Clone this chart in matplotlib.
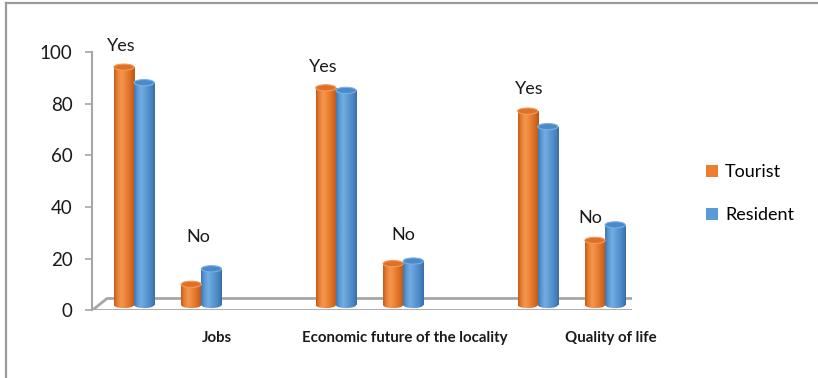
import numpy as np
import matplotlib
matplotlib.use("Agg")
import matplotlib.pyplot as plt
from matplotlib.colors import LinearSegmentedColormap
from matplotlib.patches import Ellipse, Patch, Polygon
from matplotlib.lines import Line2D
from matplotlib.transforms import offset_copy

plt.rcParams['font.family'] = ['Lato', 'DejaVu Sans']

# survey answers (%), one Yes/No pair per aspect
categories = ['Jobs', 'Economic future of the locality', 'Quality of life']
answers = ['Yes', 'No', 'Yes', 'No', 'Yes', 'No']
tourist = [92, 8, 84, 16, 75, 25]
resident = [86, 14, 83, 17, 69, 31]
series = ['Tourist', 'Resident']
yticks = [0, 20, 40, 60, 80, 100]

# slot of each Yes/No pair along the x axis (gap between aspects)
slots = np.array([0, 1, 3, 4, 6, 7])

fig = plt.figure(figsize=(8.18, 3.78), dpi=100)
ax = fig.add_axes([0.1125, 0.1786, 0.6601, 0.6839])
ax.set_xlim(-0.624, 7.40)
ax.set_ylim(0, 100)

grey = '#a6a6a6'
# pseudo-3D depth: bars sit half way back on the floor
bar_tr = offset_copy(ax.transData, fig=fig, x=0, y=5.5, units='dots')
back_tr = offset_copy(ax.transData, fig=fig, x=15, y=12, units='dots')

# floor slab
x0, x1 = ax.get_xlim()
p_front = ax.transData.transform([(x0, 0), (x1, 0)])
p_back = back_tr.transform([(x1, 0), (x0, 0)])
floor = Polygon(np.vstack([p_front, p_back]), closed=True, transform=None,
                facecolor='white', edgecolor=grey, lw=2.0, zorder=1)
ax.add_artist(floor)

orange_cm = LinearSegmentedColormap.from_list(
    'o', ['#c45b19', '#e97e34', '#f39650', '#ef8a40', '#e4782c', '#d26821', '#b95518'])
blue_cm = LinearSegmentedColormap.from_list(
    'b', ['#3d76b2', '#5c98d3', '#74ade3', '#64a1da', '#5592cd', '#4884c1', '#3a6ca3'])
caps = {'Tourist': ('#e07026', '#f39a58'), 'Resident': ('#4b8aca', '#79b0e3')}

w = 0.3
cap_h = 2.4
grad = np.linspace(0, 1, 256).reshape(1, -1)

for vals, name, cmap, dx in [(tourist, 'Tourist', orange_cm, -w / 2),
                             (resident, 'Resident', blue_cm, w / 2)]:
    bars = ax.bar(slots + dx, vals, width=w, transform=bar_tr,
                  facecolor='none', edgecolor='none', zorder=3)
    for bar, v in zip(bars, vals):
        xc = bar.get_x() + w / 2
        body = ax.imshow(grad, extent=(xc - w / 2, xc + w / 2, 0, v),
                         transform=bar_tr, aspect='auto', cmap=cmap, zorder=3)
        body.set_clip_path(bar)
        foot = Ellipse((xc, 0), w, cap_h, transform=bar_tr,
                       facecolor='none', edgecolor='none', zorder=3)
        ax.add_patch(foot)
        fimg = ax.imshow(grad, extent=(xc - w / 2, xc + w / 2, -cap_h, 0),
                         transform=bar_tr, aspect='auto', cmap=cmap, zorder=3)
        fimg.set_clip_path(foot)
        fc, ec = caps[name]
        ax.add_patch(Ellipse((xc, v), w, cap_h, transform=bar_tr,
                             facecolor=fc, edgecolor=ec, lw=0.8, zorder=4))

# Yes / No labels above each pair
lab_dx = [-0.19, -0.05, -0.19, 0.0, -0.13, -0.22]
lab_dy = [10.3, 20.4, 10.2, 13.2, 10.7, 10.8]
for s, t, txt, ddx, ddy in zip(slots, tourist, answers, lab_dx, lab_dy):
    ax.text(s + ddx, t + ddy, txt, ha='center', va='center',
            fontsize=13, color='#1a1a1a', zorder=5, clip_on=False)

# axes styling
ax.set_ylim(0, 100)
ax.set_xlim(x0, x1)
for sp in ['top', 'right', 'bottom']:
    ax.spines[sp].set_visible(False)
ax.spines['left'].set_color(grey)
ax.spines['left'].set_linewidth(1.5)
ax.set_yticks(yticks)
ax.tick_params(axis='y', length=5, width=1.2, color=grey, labelsize=13.5,
               labelcolor='#1a1a1a', pad=9)
ax.set_xticks(slots[1::2] + np.array([0.23, 0.03, 0.09]))
ax.set_xticklabels(categories, fontsize=10.8, fontweight='bold', color='#1a1a1a')
ax.tick_params(axis='x', length=0, pad=15)
ax.patch.set_visible(False)

fig.legend(handles=[Patch(facecolor='#ED7D31'), Patch(facecolor='#5B9BD5')],
           labels=series, loc='upper left', bbox_to_anchor=(0.852, 0.59),
           frameon=False, fontsize=13, handlelength=0.65, handleheight=0.65,
           handletextpad=0.4, labelspacing=1.5, borderpad=0)

# chart area border (open on the right and bottom)
fig.add_artist(Line2D([6 / 818, 6 / 818], [0, 1 - 3 / 378], color='#9a9a9a', lw=1.6))
fig.add_artist(Line2D([6 / 818, 1], [1 - 3 / 378, 1 - 3 / 378], color='#9a9a9a', lw=1.6))

fig.savefig('out.png', dpi=100)
